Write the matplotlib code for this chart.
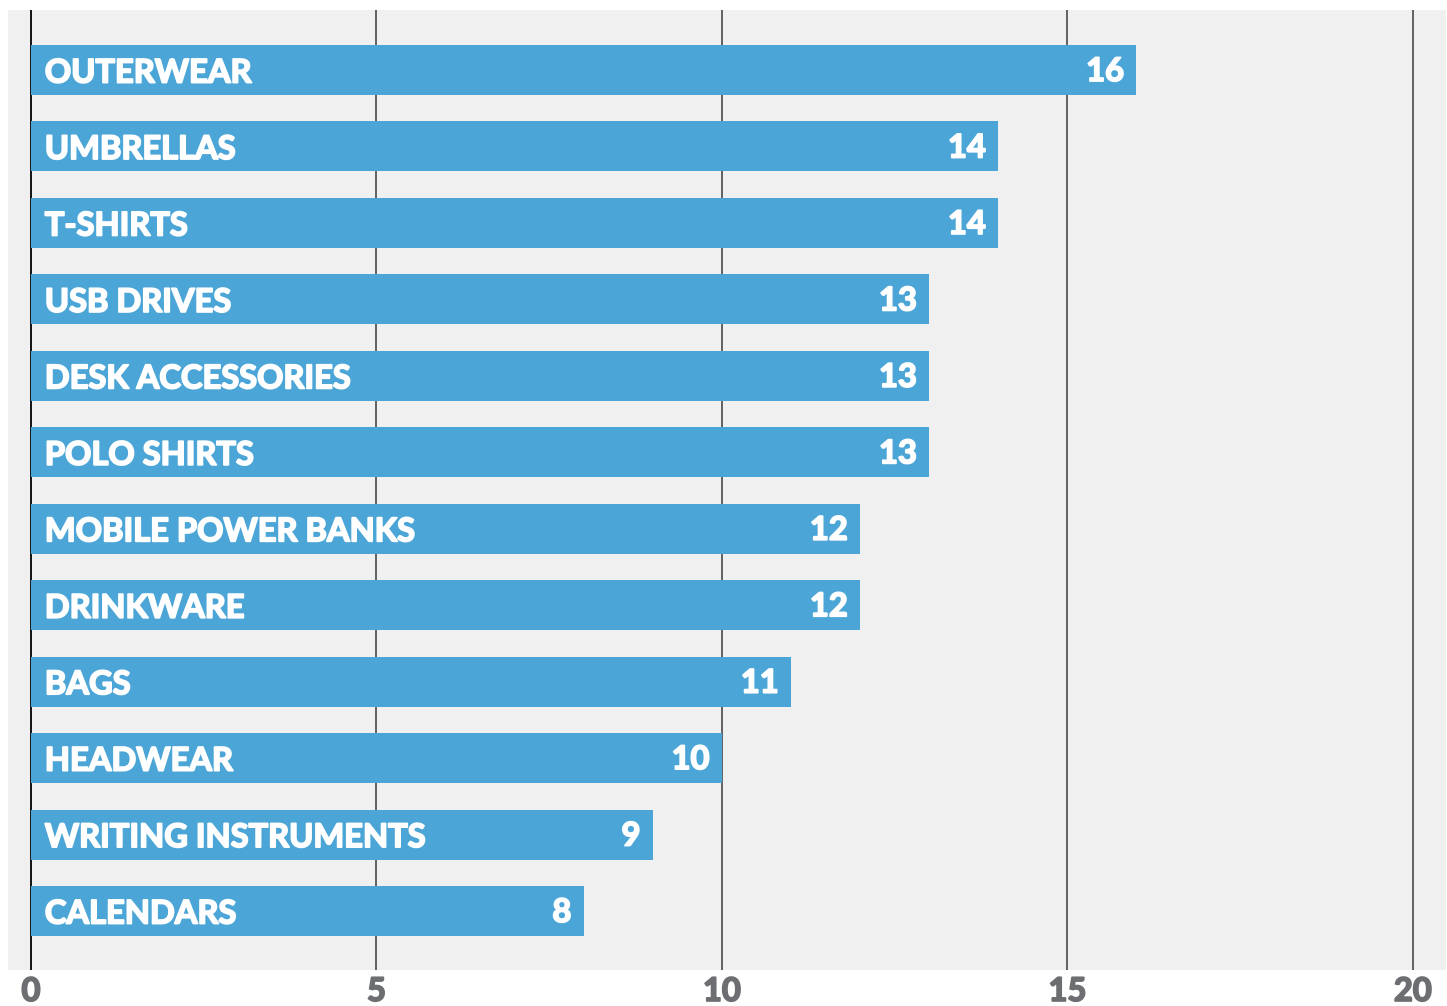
import matplotlib

matplotlib.use("Agg")
import matplotlib.patheffects as pe
import matplotlib.pyplot as plt
import numpy as np

categories = [
    "OUTERWEAR", "UMBRELLAS", "T-SHIRTS", "USB DRIVES", "DESK ACCESSORIES",
    "POLO SHIRTS", "MOBILE POWER BANKS", "DRINKWARE", "BAGS", "HEADWEAR",
    "WRITING INSTRUMENTS", "CALENDARS",
]
values = [16, 14, 14, 13, 13, 13, 12, 12, 11, 10, 9, 8]
xticks = [0, 5, 10, 15, 20]

BAR_COLOR = "#4ba5d7"
BG_COLOR = "#f0f0f0"
TICK_COLOR = "#6d6e71"
FONT = ["Lato", "DejaVu Sans"]

fig = plt.figure(figsize=(14.47, 10.06), dpi=100)
ax = fig.add_axes([8 / 1447, 36 / 1006, 1438 / 1447, 960 / 1006])
ax.set_facecolor(BG_COLOR)

y = np.arange(len(categories))
ax.barh(y, values, height=0.654, color=BAR_COLOR, zorder=3)

# vertical grid lines
for t in xticks:
    ax.axvline(t, color="black" if t == 0 else "#555555",
               linewidth=1.3, zorder=1)

ax.set_xlim(-0.333, 20.48)
ax.set_ylim(len(categories) - 1 + 0.772, -0.785)

heavy_white = [pe.withStroke(linewidth=1.3, foreground="white")]
for yi, (cat, val) in enumerate(zip(categories, values)):
    ax.text(0.2, yi + 0.04, cat, color="white", fontsize=23.5,
            fontweight="bold", family=FONT, va="center", ha="left", zorder=4,
            path_effects=heavy_white)
    ax.text(val - 0.18, yi + 0.02, str(val), color="white", fontsize=23.5,
            fontweight="bold", family=FONT, va="center", ha="right", zorder=4,
            path_effects=heavy_white)

ax.set_yticks([])
ax.set_xticks(xticks)
ax.set_xticklabels([str(t) for t in xticks], fontsize=23.5, fontweight="bold",
                   family=FONT, color=TICK_COLOR)
for lbl in ax.get_xticklabels():
    lbl.set_path_effects([pe.withStroke(linewidth=1.3, foreground=TICK_COLOR)])
ax.tick_params(axis="x", length=0, pad=5)
for s in ax.spines.values():
    s.set_visible(False)

fig.savefig("out.png", dpi=100, facecolor="white")
